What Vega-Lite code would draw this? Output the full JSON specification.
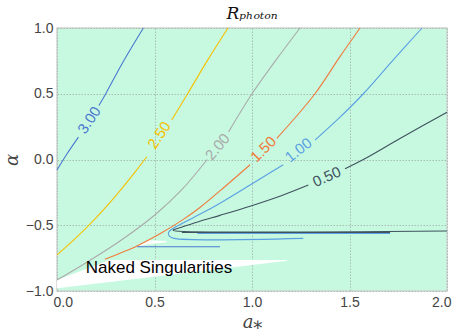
{
  "$schema": "https://vega.github.io/schema/vega-lite/v6.json",
  "width": 390,
  "height": 263,
  "autosize": "none",
  "padding": {"left": 57, "top": 28, "right": 16, "bottom": 44},
  "background": "white",
  "title": {"text": "Rₚₕₒₜₒₙ", "font": "DejaVu Serif", "fontStyle": "italic", "fontWeight": "normal", "fontSize": 17, "color": "#111111", "anchor": "middle", "offset": -2},
  "config": {
    "view": {"fill": "#c7f9e1", "stroke": "#d2d2d2", "strokeWidth": 1.5},
    "axis": {"ticks": false, "domain": false, "grid": true, "zindex": 1, "gridColor": "#a6bfb3", "gridDash": [1.5, 1.5], "gridWidth": 1, "labelFont": "Liberation Sans", "labelFontSize": 14, "labelColor": "#444444", "labelPadding": 4, "titleFont": "DejaVu Serif", "titleFontStyle": "italic", "titleFontWeight": "normal", "titleFontSize": 18, "titleColor": "#444444"}
  },
  "datasets": {
    "white": [
      {"region": "ns", "a": 0, "top": -0.916, "bot": -0.98},
      {"region": "ns", "a": 0.27, "top": -0.764, "bot": -0.932},
      {"region": "ns", "a": 1.18, "top": -0.764, "bot": -0.77},
      {"region": "sl", "a": 0.41, "top": -0.655, "bot": -0.66},
      {"region": "sl", "a": 0.47, "top": -0.615, "bot": -0.645},
      {"region": "sl", "a": 0.56, "top": -0.62, "bot": -0.63}
    ],
    "lines": [
      {"level": "3.00", "seg": "3a", "i": 0, "a": 0, "alpha": -0.08},
      {"level": "3.00", "seg": "3a", "i": 1, "a": 0.05, "alpha": 0.04},
      {"level": "3.00", "seg": "3a", "i": 2, "a": 0.11, "alpha": 0.17},
      {"level": "3.00", "seg": "3b", "i": 0, "a": 0.215, "alpha": 0.41},
      {"level": "3.00", "seg": "3b", "i": 1, "a": 0.25, "alpha": 0.5},
      {"level": "3.00", "seg": "3b", "i": 2, "a": 0.34, "alpha": 0.745},
      {"level": "3.00", "seg": "3b", "i": 3, "a": 0.443, "alpha": 1.0},
      {"level": "3.00", "seg": "3s", "i": 0, "a": 0.41, "alpha": -0.663},
      {"level": "3.00", "seg": "3s", "i": 1, "a": 0.836, "alpha": -0.663},

      {"level": "2.50", "seg": "25a", "i": 0, "a": 0, "alpha": -0.725},
      {"level": "2.50", "seg": "25a", "i": 1, "a": 0.1, "alpha": -0.592},
      {"level": "2.50", "seg": "25a", "i": 2, "a": 0.2, "alpha": -0.443},
      {"level": "2.50", "seg": "25a", "i": 3, "a": 0.3, "alpha": -0.278},
      {"level": "2.50", "seg": "25a", "i": 4, "a": 0.4, "alpha": -0.096},
      {"level": "2.50", "seg": "25a", "i": 5, "a": 0.46, "alpha": 0.021},
      {"level": "2.50", "seg": "25b", "i": 0, "a": 0.588, "alpha": 0.3},
      {"level": "2.50", "seg": "25b", "i": 1, "a": 0.67, "alpha": 0.5},
      {"level": "2.50", "seg": "25b", "i": 2, "a": 0.77, "alpha": 0.75},
      {"level": "2.50", "seg": "25b", "i": 3, "a": 0.877, "alpha": 1.0},

      {"level": "2.00", "seg": "2a", "i": 0, "a": 0, "alpha": -0.916},
      {"level": "2.00", "seg": "2a", "i": 1, "a": 0.16, "alpha": -0.775},
      {"level": "2.00", "seg": "2a", "i": 2, "a": 0.323, "alpha": -0.62},
      {"level": "2.00", "seg": "2a", "i": 3, "a": 0.503, "alpha": -0.42},
      {"level": "2.00", "seg": "2a", "i": 4, "a": 0.64, "alpha": -0.23},
      {"level": "2.00", "seg": "2a", "i": 5, "a": 0.77, "alpha": 0.0},
      {"level": "2.00", "seg": "2b", "i": 0, "a": 0.88, "alpha": 0.21},
      {"level": "2.00", "seg": "2b", "i": 1, "a": 1.0, "alpha": 0.5},
      {"level": "2.00", "seg": "2b", "i": 2, "a": 1.12, "alpha": 0.75},
      {"level": "2.00", "seg": "2b", "i": 3, "a": 1.246, "alpha": 1.0},

      {"level": "1.50", "seg": "15a", "i": 0, "a": 0.246, "alpha": -0.759},
      {"level": "1.50", "seg": "15a", "i": 1, "a": 0.323, "alpha": -0.713},
      {"level": "1.50", "seg": "15a", "i": 2, "a": 0.4, "alpha": -0.665},
      {"level": "1.50", "seg": "15a", "i": 3, "a": 0.528, "alpha": -0.565},
      {"level": "1.50", "seg": "15a", "i": 4, "a": 0.648, "alpha": -0.455},
      {"level": "1.50", "seg": "15a", "i": 5, "a": 0.733, "alpha": -0.365},
      {"level": "1.50", "seg": "15a", "i": 6, "a": 0.862, "alpha": -0.205},
      {"level": "1.50", "seg": "15a", "i": 7, "a": 0.99, "alpha": -0.04},
      {"level": "1.50", "seg": "15b", "i": 0, "a": 1.127, "alpha": 0.16},
      {"level": "1.50", "seg": "15b", "i": 1, "a": 1.323, "alpha": 0.5},
      {"level": "1.50", "seg": "15b", "i": 2, "a": 1.45, "alpha": 0.78},
      {"level": "1.50", "seg": "15b", "i": 3, "a": 1.554, "alpha": 1.0},

      {"level": "1.00", "seg": "1a", "i": 0, "a": 1.263, "alpha": -0.6},
      {"level": "1.00", "seg": "1a", "i": 1, "a": 0.6, "alpha": -0.6},
      {"level": "1.00", "seg": "1a", "i": 2, "a": 0.578, "alpha": -0.585},
      {"level": "1.00", "seg": "1a", "i": 3, "a": 0.571, "alpha": -0.56},
      {"level": "1.00", "seg": "1a", "i": 4, "a": 0.58, "alpha": -0.54},
      {"level": "1.00", "seg": "1a", "i": 5, "a": 0.597, "alpha": -0.523},
      {"level": "1.00", "seg": "1a", "i": 6, "a": 0.725, "alpha": -0.422},
      {"level": "1.00", "seg": "1a", "i": 7, "a": 0.82, "alpha": -0.346},
      {"level": "1.00", "seg": "1a", "i": 8, "a": 0.99, "alpha": -0.194},
      {"level": "1.00", "seg": "1a", "i": 9, "a": 1.16, "alpha": -0.04},
      {"level": "1.00", "seg": "1b", "i": 0, "a": 1.323, "alpha": 0.148},
      {"level": "1.00", "seg": "1b", "i": 1, "a": 1.45, "alpha": 0.32},
      {"level": "1.00", "seg": "1b", "i": 2, "a": 1.571, "alpha": 0.5},
      {"level": "1.00", "seg": "1b", "i": 3, "a": 1.72, "alpha": 0.75},
      {"level": "1.00", "seg": "1b", "i": 4, "a": 1.872, "alpha": 1.0},
      {"level": "1.00", "seg": "1s", "i": 0, "a": 0.72, "alpha": -0.562},
      {"level": "1.00", "seg": "1s", "i": 1, "a": 1.708, "alpha": -0.562},

      {"level": "0.50", "seg": "05a", "i": 0, "a": 2.0, "alpha": -0.544},
      {"level": "0.50", "seg": "05a", "i": 1, "a": 0.61, "alpha": -0.544},
      {"level": "0.50", "seg": "05a", "i": 2, "a": 0.595, "alpha": -0.538},
      {"level": "0.50", "seg": "05a", "i": 3, "a": 0.605, "alpha": -0.53},
      {"level": "0.50", "seg": "05a", "i": 4, "a": 0.622, "alpha": -0.523},
      {"level": "0.50", "seg": "05a", "i": 5, "a": 0.733, "alpha": -0.47},
      {"level": "0.50", "seg": "05a", "i": 6, "a": 0.836, "alpha": -0.425},
      {"level": "0.50", "seg": "05a", "i": 7, "a": 0.99, "alpha": -0.355},
      {"level": "0.50", "seg": "05a", "i": 8, "a": 1.15, "alpha": -0.275},
      {"level": "0.50", "seg": "05a", "i": 9, "a": 1.289, "alpha": -0.194},
      {"level": "0.50", "seg": "05b", "i": 0, "a": 1.477, "alpha": -0.07},
      {"level": "0.50", "seg": "05b", "i": 1, "a": 1.571, "alpha": 0.0},
      {"level": "0.50", "seg": "05b", "i": 2, "a": 1.759, "alpha": 0.16},
      {"level": "0.50", "seg": "05b", "i": 3, "a": 2.0, "alpha": 0.36},
      {"level": "0.50", "seg": "05s", "i": 0, "a": 0.64, "alpha": -0.555},
      {"level": "0.50", "seg": "05s", "i": 1, "a": 1.708, "alpha": -0.555}
    ],
    "labels": [
      {"level": "3.00", "a": 0.165, "alpha": 0.3},
      {"level": "2.50", "a": 0.524, "alpha": 0.186},
      {"level": "2.00", "a": 0.823, "alpha": 0.097},
      {"level": "1.50", "a": 1.058, "alpha": 0.078},
      {"level": "1.00", "a": 1.238, "alpha": 0.072},
      {"level": "0.50", "a": 1.383, "alpha": -0.131}
    ],
    "notes": [
      {"note": "Naked Singularities", "a": 0.523, "alpha": -0.825}
    ]
  },
  "encoding": {
    "x": {"field": "a", "type": "quantitative", "scale": {"domain": [0, 2], "nice": false, "zero": false}, "axis": {"title": "a⁎", "values": [0, 0.5, 1, 1.5, 2], "format": ".1f", "labelFlush": true, "labelFlushOffset": 4}},
    "y": {"field": "alpha", "type": "quantitative", "scale": {"domain": [-1, 1], "nice": false, "zero": false}, "axis": {"title": "α", "values": [-1, -0.5, 0, 0.5, 1], "format": ".1f"}}
  },
  "layer": [
    {
      "data": {"name": "white"},
      "mark": {"type": "area", "fill": "white", "stroke": null, "opacity": 1},
      "encoding": {
        "y": {"field": "top", "type": "quantitative"},
        "y2": {"field": "bot"},
        "detail": {"field": "region"}
      }
    },
    {
      "data": {"name": "lines"},
      "mark": {"type": "line", "strokeWidth": 1.1, "interpolate": "catmull-rom"},
      "encoding": {
        "color": {"field": "level", "type": "nominal", "legend": null, "scale": {"domain": ["3.00", "2.50", "2.00", "1.50", "1.00", "0.50"], "range": ["#4a78d0", "#f5c000", "#aaaaaa", "#f07a3a", "#5aa0e2", "#3f525e"]}},
        "detail": {"field": "seg"},
        "order": {"field": "i", "type": "quantitative"}
      }
    },
    {
      "data": {"name": "labels"},
      "transform": [{"filter": "datum.level == '3.00'"}],
      "mark": {"type": "text", "angle": -56, "font": "Liberation Sans", "fontSize": 15, "align": "center", "baseline": "middle"},
      "encoding": {"text": {"field": "level"}, "color": {"field": "level", "type": "nominal", "legend": null}}
    },
    {
      "data": {"name": "labels"},
      "transform": [{"filter": "datum.level == '2.50'"}],
      "mark": {"type": "text", "angle": -56, "font": "Liberation Sans", "fontSize": 15, "align": "center", "baseline": "middle"},
      "encoding": {"text": {"field": "level"}, "color": {"field": "level", "type": "nominal", "legend": null}}
    },
    {
      "data": {"name": "labels"},
      "transform": [{"filter": "datum.level == '2.00'"}],
      "mark": {"type": "text", "angle": -50, "font": "Liberation Sans", "fontSize": 15, "align": "center", "baseline": "middle"},
      "encoding": {"text": {"field": "level"}, "color": {"field": "level", "type": "nominal", "legend": null}}
    },
    {
      "data": {"name": "labels"},
      "transform": [{"filter": "datum.level == '1.50'"}],
      "mark": {"type": "text", "angle": -45, "font": "Liberation Sans", "fontSize": 15, "align": "center", "baseline": "middle"},
      "encoding": {"text": {"field": "level"}, "color": {"field": "level", "type": "nominal", "legend": null}}
    },
    {
      "data": {"name": "labels"},
      "transform": [{"filter": "datum.level == '1.00'"}],
      "mark": {"type": "text", "angle": -38, "font": "Liberation Sans", "fontSize": 15, "align": "center", "baseline": "middle"},
      "encoding": {"text": {"field": "level"}, "color": {"field": "level", "type": "nominal", "legend": null}}
    },
    {
      "data": {"name": "labels"},
      "transform": [{"filter": "datum.level == '0.50'"}],
      "mark": {"type": "text", "angle": -24, "font": "Liberation Sans", "fontSize": 15, "align": "center", "baseline": "middle"},
      "encoding": {"text": {"field": "level"}, "color": {"field": "level", "type": "nominal", "legend": null}}
    },
    {
      "data": {"name": "notes"},
      "mark": {"type": "text", "font": "Liberation Sans", "fontSize": 17, "color": "black", "align": "center", "baseline": "middle"},
      "encoding": {"text": {"field": "note"}}
    }
  ]
}
